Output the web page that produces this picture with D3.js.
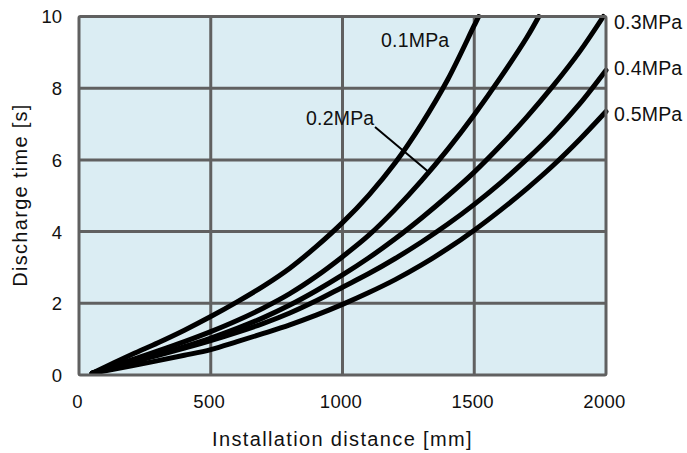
<!DOCTYPE html>
<html><head><meta charset="utf-8">
<script src="https://cdn.jsdelivr.net/npm/d3@7/dist/d3.min.js"></script>
<style>
html,body{margin:0;padding:0;background:#fff;}
text{font-family:"Liberation Sans",Arial,sans-serif;fill:#111;}
</style></head><body>
<svg id="c" width="687" height="453"></svg>
<script>
const xTicks = [0, 500, 1000, 1500, 2000];
const yTicks = [0, 2, 4, 6, 8, 10];
const seriesNames = ["0.1MPa", "0.2MPa", "0.3MPa", "0.4MPa", "0.5MPa"];
const dist01 = [50, 200, 300, 400, 500, 600, 700, 800, 900, 1000, 1100, 1200, 1300, 1400, 1500, 1517];
const time01 = [0.05, 0.57, 0.9, 1.25, 1.63, 2.04, 2.48, 2.98, 3.58, 4.25, 5.02, 5.92, 7.0, 8.25, 9.75, 10];
const dist02 = [50, 200, 300, 400, 500, 600, 700, 800, 900, 1000, 1100, 1200, 1300, 1400, 1500, 1600, 1700, 1745];
const time02 = [0.05, 0.42, 0.67, 0.93, 1.21, 1.52, 1.87, 2.27, 2.75, 3.3, 3.9, 4.62, 5.42, 6.3, 7.26, 8.3, 9.42, 10];
const dist03 = [50, 200, 300, 400, 500, 600, 700, 800, 900, 1000, 1100, 1200, 1300, 1400, 1500, 1600, 1700, 1800, 1900, 1990];
const time03 = [0.05, 0.37, 0.57, 0.79, 1.03, 1.3, 1.6, 1.95, 2.35, 2.79, 3.27, 3.8, 4.38, 5.0, 5.66, 6.4, 7.2, 8.07, 9.02, 10];
const dist04 = [50, 200, 300, 400, 500, 600, 700, 800, 900, 1000, 1100, 1200, 1300, 1400, 1500, 1600, 1700, 1800, 1900, 2000];
const time04 = [0.05, 0.36, 0.55, 0.75, 0.96, 1.19, 1.44, 1.73, 2.07, 2.45, 2.83, 3.25, 3.71, 4.21, 4.76, 5.36, 6.02, 6.74, 7.56, 8.5];
const dist05 = [50, 200, 300, 400, 500, 600, 700, 800, 900, 1000, 1100, 1200, 1300, 1400, 1500, 1600, 1700, 1800, 1900, 2000];
const time05 = [0.05, 0.26, 0.4, 0.55, 0.71, 0.93, 1.16, 1.4, 1.67, 1.97, 2.3, 2.66, 3.07, 3.53, 4.04, 4.6, 5.2, 5.85, 6.57, 7.35];

const series = [[dist01,time01],[dist02,time02],[dist03,time03],[dist04,time04],[dist05,time05]]
  .map((p,i)=>({name:seriesNames[i], pts:p[0].map((d,j)=>[d,p[1][j]])}));

const svg = d3.select("#c");
const L = 79, R = 606, T = 16.5, B = 375;
const x = d3.scaleLinear().domain([0,2000]).range([L,R]);
const y = d3.scaleLinear().domain([0,10]).range([B,T]);
const grid = "#606060";

svg.append("rect").attr("x",L).attr("y",T).attr("width",R-L).attr("height",B-T).attr("fill","#dbedf3");

svg.append("g").selectAll("line").data(xTicks.slice(1,-1)).join("line")
  .attr("x1",d=>x(d)).attr("x2",d=>x(d)).attr("y1",T).attr("y2",B)
  .attr("stroke",grid).attr("stroke-width",3);
svg.append("g").selectAll("line").data(yTicks.slice(1,-1)).join("line")
  .attr("y1",d=>y(d)).attr("y2",d=>y(d)).attr("x1",L).attr("x2",R)
  .attr("stroke",grid).attr("stroke-width",3);

const line = d3.line().x(d=>x(d[0])).y(d=>y(d[1])).curve(d3.curveCatmullRom.alpha(0.5));
svg.append("g").selectAll("path").data(series).join("path")
  .attr("d",d=>line(d.pts)).attr("fill","none").attr("stroke","#000")
  .attr("stroke-width",5).attr("stroke-linecap","round").attr("stroke-linejoin","round");

svg.append("rect").attr("x",L).attr("y",T).attr("width",R-L).attr("height",B-T)
  .attr("fill","none").attr("stroke",grid).attr("stroke-width",3).attr("rx",1.5);

const xAxis = svg.append("g").attr("transform",`translate(0,${B})`)
  .call(d3.axisBottom(x).tickValues(xTicks).tickSize(0).tickPadding(0).tickFormat(d3.format("d")));
xAxis.select(".domain").remove();
xAxis.selectAll("text").attr("dy",null).attr("y",33).attr("x",-2).attr("font-size",18.5)
  .attr("letter-spacing","0.3px")
  .attr("font-family","Liberation Sans, Arial, sans-serif").attr("fill","#111");

const yAxis = svg.append("g").attr("transform",`translate(${L},0)`)
  .call(d3.axisLeft(y).tickValues(yTicks).tickSize(0).tickPadding(0).tickFormat(d3.format("d")));
yAxis.select(".domain").remove();
yAxis.selectAll("text").attr("x",-17).attr("dy","0.35em").attr("font-size",18.5)
  .attr("font-family","Liberation Sans, Arial, sans-serif").attr("fill","#111");

svg.append("text").attr("x",(L+R)/2).attr("y",446).attr("text-anchor","middle")
  .attr("font-size",20).attr("letter-spacing","1.35px").text("Installation distance [mm]");
svg.append("text").attr("transform","translate(27,195) rotate(-90)").attr("text-anchor","middle")
  .attr("font-size",20).attr("letter-spacing","1.3px").text("Discharge time [s]");

svg.append("text").attr("x",381).attr("y",47).attr("font-size",19.5).attr("letter-spacing","0.2px").text(seriesNames[0]);
svg.append("text").attr("x",306).attr("y",125).attr("font-size",19.5).attr("letter-spacing","0.2px").text(seriesNames[1]);
svg.append("line").attr("x1",375).attr("y1",127).attr("x2",x(1326)).attr("y2",y(5.67))
  .attr("stroke","#000").attr("stroke-width",2);
svg.append("text").attr("x",614).attr("y",28.5).attr("font-size",19.5).attr("letter-spacing","0.2px").text(seriesNames[2]);
svg.append("text").attr("x",614).attr("y",75).attr("font-size",19.5).attr("letter-spacing","0.2px").text(seriesNames[3]);
svg.append("text").attr("x",614).attr("y",120.5).attr("font-size",19.5).attr("letter-spacing","0.2px").text(seriesNames[4]);
</script>
</body></html>
